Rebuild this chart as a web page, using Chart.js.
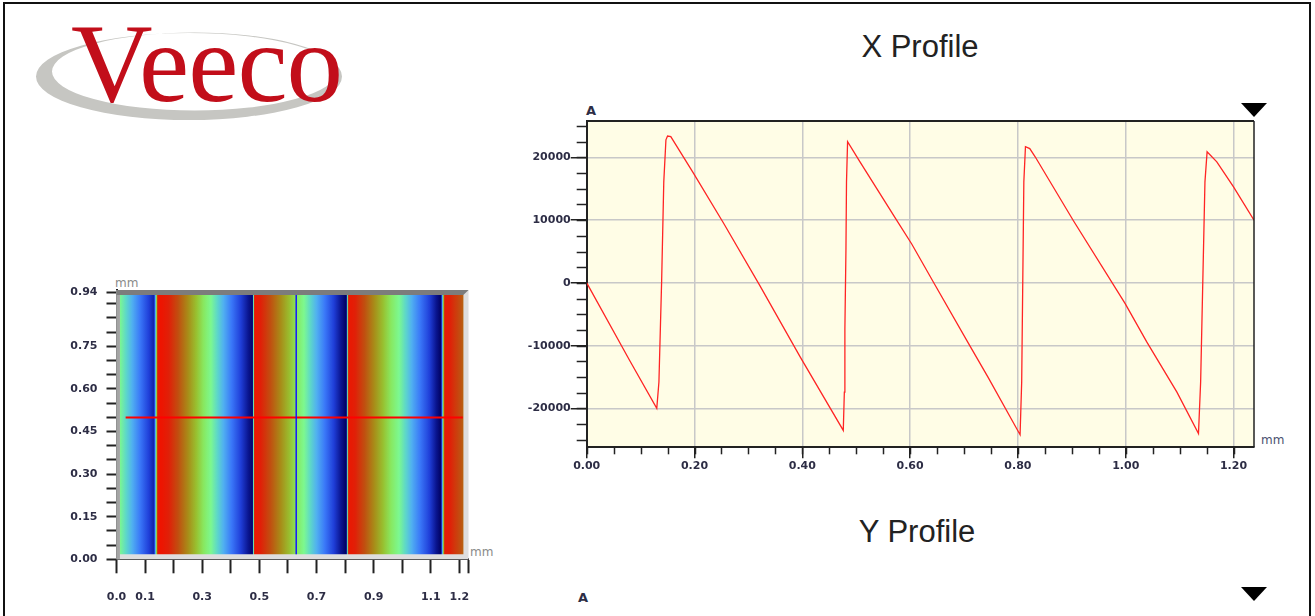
<!DOCTYPE html>
<html>
<head>
<meta charset="utf-8">
<script src="https://cdn.jsdelivr.net/npm/chart.js@4.4.1/dist/chart.umd.min.js"></script>
<style>
  html, body { margin: 0; padding: 0; background: #fff; width: 1315px; height: 616px; overflow: hidden; }
  .page { position: absolute; left: 3px; top: 2px; width: 1308px; height: 700px; border: 2px solid #111; box-sizing: border-box; }
  .abs { position: absolute; white-space: nowrap; }
  .logo { left: 71px; top: 6px; font: 113px/113px "Liberation Serif", serif; color: #c20e1a; letter-spacing: -1px; }
  .title { font: 31px/31px "Liberation Sans", Arial, sans-serif; color: #222; width: 400px; text-align: center; }
  .unit { font: bold 13px/13px "DejaVu Sans", sans-serif; color: #2d2d45; }
  .mm { font: 12px/12px "DejaVu Sans", sans-serif; }
  .tri { width: 0; height: 0; border-left: 13px solid transparent; border-right: 13px solid transparent; border-top: 14px solid #000; }
  canvas { position: absolute; }
</style>
</head>
<body>
<div class="page"></div>

<svg class="abs" style="left:0;top:0" width="360" height="130">
  <path fill="#c6c6c2" fill-rule="evenodd"
        d="M36,76.5 a153,43.5 0 1,0 306,0 a153,43.5 0 1,0 -306,0 Z
           M52,71.5 a142.5,39 0 1,0 285,0 a142.5,39 0 1,0 -285,0 Z"/>
</svg>
<div class="abs logo">Veeco</div>

<div class="abs title" style="left:720px;top:31px">X Profile</div>
<div class="abs title" style="left:717px;top:516px">Y Profile</div>

<div class="abs unit" style="left:586px;top:104px">A</div>
<div class="abs mm" style="left:1261px;top:434px;color:#4a5070">mm</div>
<div class="abs tri" style="left:1241px;top:103px"></div>

<div class="abs unit" style="left:578px;top:591px">A</div>
<div class="abs tri" style="left:1241px;top:587px"></div>

<div class="abs mm" style="left:115px;top:277px;color:#8a8a8a">mm</div>
<div class="abs mm" style="left:470px;top:546px;color:#8a8a8a">mm</div>

<canvas id="heat" width="470" height="340" style="left:40px;top:270px"></canvas>
<canvas id="xprof" width="780" height="380" style="left:520px;top:100px"></canvas>

<script>
// X profile (mm, Angstrom)
const profileX = [0, 0.080, 0.130, 0.134, 0.139, 0.143, 0.147, 0.150, 0.156, 0.198, 0.254, 0.321, 0.396,
  0.476, 0.478, 0.479, 0.481, 0.482, 0.484, 0.507, 0.572, 0.603, 0.646, 0.708, 0.745,
  0.804, 0.807, 0.809, 0.811, 0.814, 0.822, 0.832, 0.903, 0.999, 1.039, 1.095,
  1.135, 1.139, 1.143, 1.147, 1.151, 1.169, 1.200, 1.238];
const profileY = [0, -12400, -20000, -15800, 200, 16100, 22800, 23400, 23300, 17500, 9500, -400, -11800,
  -23500, -17400, -7300, 5500, 16100, 22500, 19300, 10400, 6200, -300, -9600, -15100,
  -24200, -15800, 200, 16100, 21700, 21400, 20100, 9900, -3300, -9400, -17400,
  -24000, -15800, 200, 16100, 20900, 19300, 15300, 10000];

const profTicksX = [0, 0.2, 0.4, 0.6, 0.8, 1.0, 1.2];
const profTicksY = [-20000, -10000, 0, 10000, 20000];

// surface map
const imgX = [0.012, 1.215];
const imgY = [0.018, 0.930];
const cursorX = 0.629;
const cursorY = 0.499;
const cursorSpan = [0.032, 1.212];
const heatTicksX = [0, 0.1, 0.2, 0.3, 0.4, 0.5, 0.6, 0.7, 0.8, 0.9, 1.0, 1.1, 1.2, 1.232];
const heatLabelsX = ['0.0', '0.1', '', '0.3', '', '0.5', '', '0.7', '', '0.9', '', '1.1', '1.2', ''];
const heatTicksY = [0, 0.05, 0.10, 0.15, 0.20, 0.25, 0.30, 0.35, 0.40, 0.45, 0.50, 0.55, 0.60, 0.65, 0.70, 0.75, 0.80, 0.85, 0.90, 0.94];
const heatLabelsY = ['0.00', '', '', '0.15', '', '', '0.30', '', '', '0.45', '', '', '0.60', '', '', '0.75', '', '', '', '0.94'];

const colorStops = [
  [0.00, '#000060'], [0.06, '#0a1590'], [0.14, '#1f3ed8'], [0.24, '#3a78f8'], [0.33, '#50b0f0'],
  [0.40, '#5ed8c8'], [0.47, '#7cf890'], [0.55, '#88e860'], [0.63, '#98c030'], [0.72, '#a88c18'],
  [0.82, '#c05010'], [0.92, '#e02008'], [1.00, '#ee1400']
];

const zMin = Math.min(...profileY), zMax = Math.max(...profileY);

function hex(c) { return [1, 3, 5].map(i => parseInt(c.substr(i, 2), 16)); }

function heightColor(v) {
  const t = Math.max(0, Math.min(1, (v - zMin) / (zMax - zMin)));
  for (let i = 1; i < colorStops.length; i++) {
    if (t <= colorStops[i][0]) {
      const [t0, c0] = colorStops[i - 1], [t1, c1] = colorStops[i];
      const f = (t - t0) / (t1 - t0), a = hex(c0), b = hex(c1);
      return 'rgb(' + a.map((k, j) => Math.round(k + (b[j] - k) * f)).join(',') + ')';
    }
  }
  return colorStops[colorStops.length - 1][1];
}

function profileAt(mm) {
  for (let i = 1; i < profileX.length; i++) {
    if (mm <= profileX[i]) {
      const f = (mm - profileX[i - 1]) / (profileX[i] - profileX[i - 1]);
      return profileY[i - 1] + (profileY[i] - profileY[i - 1]) * f;
    }
  }
  return profileY[profileY.length - 1];
}

function surfaceGradient(chart) {
  const xs = chart.scales.x;
  const x0 = xs.getPixelForValue(imgX[0]), x1 = xs.getPixelForValue(imgX[1]);
  const g = chart.ctx.createLinearGradient(x0, 0, x1, 0);
  const n = 800;
  for (let i = 0; i <= n; i++) {
    const mm = imgX[0] + (imgX[1] - imgX[0]) * i / n;
    g.addColorStop(i / n, heightColor(profileAt(mm)));
  }
  return g;
}

Chart.defaults.font.family = 'DejaVu Sans';
const tickFont = { size: 11, weight: 'bold' };
const tickColor = '#2d2d45';

// short ticks between the labelled ones
const minorTicks = {
  id: 'minorTicks',
  afterDraw(chart, args, opts) {
    const ctx = chart.ctx, a = chart.chartArea;
    ctx.save();
    ctx.strokeStyle = '#222';
    ctx.lineWidth = 1.5;
    (opts.axes || []).forEach(ax => {
      const s = chart.scales[ax.id];
      for (let v = Math.ceil(s.min / ax.step) * ax.step; v <= s.max; v += ax.step) {
        const p = Math.round(s.getPixelForValue(v)) + 0.5;
        ctx.beginPath();
        if (s.isHorizontal()) { ctx.moveTo(p, a.bottom); ctx.lineTo(p, a.bottom + ax.len); }
        else { ctx.moveTo(a.left, p); ctx.lineTo(a.left - ax.len, p); }
        ctx.stroke();
      }
    });
    ctx.restore();
  }
};

// plot background and outline
const plotFrame = {
  id: 'plotFrame',
  beforeDraw(chart, args, opts) {
    if (!opts.fill) return;
    const a = chart.chartArea, ctx = chart.ctx;
    ctx.save();
    ctx.fillStyle = opts.fill;
    ctx.fillRect(a.left, a.top, a.right - a.left, a.bottom - a.top);
    ctx.restore();
  },
  afterDraw(chart, args, opts) {
    if (!opts.stroke) return;
    const a = chart.chartArea, ctx = chart.ctx;
    ctx.save();
    ctx.strokeStyle = opts.stroke;
    ctx.lineWidth = 2;
    ctx.beginPath(); ctx.moveTo(a.left, a.top); ctx.lineTo(a.right, a.top); ctx.stroke();
    ctx.lineWidth = 1.5;
    ctx.beginPath(); ctx.moveTo(a.right, a.top); ctx.lineTo(a.right, a.bottom); ctx.stroke();
    ctx.restore();
  }
};

// gray bevel round the surface picture
const bevel = {
  id: 'bevel',
  beforeDatasetsDraw(chart) {
    const a = chart.chartArea, ctx = chart.ctx;
    const ix0 = chart.scales.x.getPixelForValue(imgX[0]);
    const iy1 = chart.scales.y.getPixelForValue(imgY[1]);
    ctx.save();
    ctx.fillStyle = '#dedede';
    ctx.fillRect(a.left, a.top, a.right - a.left, a.bottom - a.top);
    ctx.fillStyle = '#a4a4a4';
    ctx.fillRect(a.left, a.top, ix0 - a.left, a.bottom - a.top);
    ctx.fillStyle = '#7c7c7c';
    ctx.beginPath();
    ctx.moveTo(a.left, a.top); ctx.lineTo(a.right, a.top);
    ctx.lineTo(a.right - (iy1 - a.top), iy1); ctx.lineTo(a.left, iy1);
    ctx.closePath(); ctx.fill();
    ctx.restore();
  }
};

new Chart(document.getElementById('xprof'), {
  type: 'line',
  data: {
    datasets: [{
      data: profileX.map((x, i) => ({ x: x, y: profileY[i] })),
      borderColor: '#ff2424',
      borderWidth: 1.3,
      pointRadius: 0,
      tension: 0
    }]
  },
  options: {
    responsive: false,
    animation: false,
    layout: { padding: { top: 21, right: 46, left: 0, bottom: 0 } },
    plugins: {
      legend: { display: false },
      tooltip: { enabled: false },
      plotFrame: { fill: '#fffde6', stroke: '#222' },
      minorTicks: { axes: [{ id: 'x', step: 0.05, len: 7 }, { id: 'y', step: 2500, len: 10 }] }
    },
    scales: {
      x: {
        type: 'linear', min: 0, max: 1.238,
        afterFit: s => { s.height = 32.7; },
        afterBuildTicks: s => { s.ticks = profTicksX.map(v => ({ value: v })); },
        ticks: { callback: v => v.toFixed(2), font: tickFont, color: tickColor, padding: 1, maxRotation: 0, autoSkip: false },
        grid: { color: '#c8c8c8', lineWidth: 1.5, tickLength: 11, tickColor: '#222', tickWidth: 1.5 },
        border: { color: '#222', width: 2 }
      },
      y: {
        type: 'linear', min: -26200, max: 25800,
        afterFit: s => { s.width = 66.7; },
        afterBuildTicks: s => { s.ticks = profTicksY.map(v => ({ value: v })); },
        ticks: { callback: v => String(v), font: tickFont, color: tickColor, padding: 0, autoSkip: false },
        grid: { color: '#c8c8c8', lineWidth: 1.5, tickLength: 16, tickColor: '#222', tickWidth: 1.5 },
        border: { color: '#222', width: 2 }
      }
    }
  },
  plugins: [plotFrame, minorTicks]
});

new Chart(document.getElementById('heat'), {
  type: 'line',
  data: {
    datasets: [
      {
        data: [{ x: cursorX, y: imgY[0] }, { x: cursorX, y: imgY[1] }],
        borderColor: '#1414ff', borderWidth: 1.5, pointRadius: 0
      },
      {
        data: [{ x: cursorSpan[0], y: cursorY }, { x: cursorSpan[1], y: cursorY }],
        borderColor: '#ff0000', borderWidth: 2, pointRadius: 0
      },
      {
        data: [{ x: imgX[0], y: imgY[1] }, { x: imgX[1], y: imgY[1] }],
        borderWidth: 0, pointRadius: 0,
        fill: { value: imgY[0] },
        backgroundColor: ctx => ctx.chart.chartArea ? surfaceGradient(ctx.chart) : '#888'
      }
    ]
  },
  options: {
    responsive: false,
    animation: false,
    layout: { padding: { top: 20, right: 41.5, left: 0, bottom: 0 } },
    plugins: { legend: { display: false }, tooltip: { enabled: false } },
    scales: {
      x: {
        type: 'linear', min: 0, max: 1.232,
        afterFit: s => { s.height = 50.7; },
        afterBuildTicks: s => { s.ticks = heatTicksX.map(v => ({ value: v })); },
        ticks: { callback: (v, i) => heatLabelsX[i], font: tickFont, color: tickColor, padding: 17, maxRotation: 0, autoSkip: false },
        grid: { display: true, drawOnChartArea: false, tickLength: 14, tickColor: '#222', tickWidth: 2 },
        border: { color: '#222', width: 2 }
      },
      y: {
        type: 'linear', min: 0, max: 0.948,
        afterFit: s => { s.width = 76.5; },
        afterBuildTicks: s => { s.ticks = heatTicksY.map(v => ({ value: v })); },
        ticks: { callback: (v, i) => heatLabelsY[i], font: tickFont, color: tickColor, padding: 9, autoSkip: false },
        grid: { display: true, drawOnChartArea: false, tickLength: 10, tickColor: '#222', tickWidth: 2 },
        border: { color: '#222', width: 2 }
      }
    }
  },
  plugins: [bevel]
});
</script>
</body>
</html>
